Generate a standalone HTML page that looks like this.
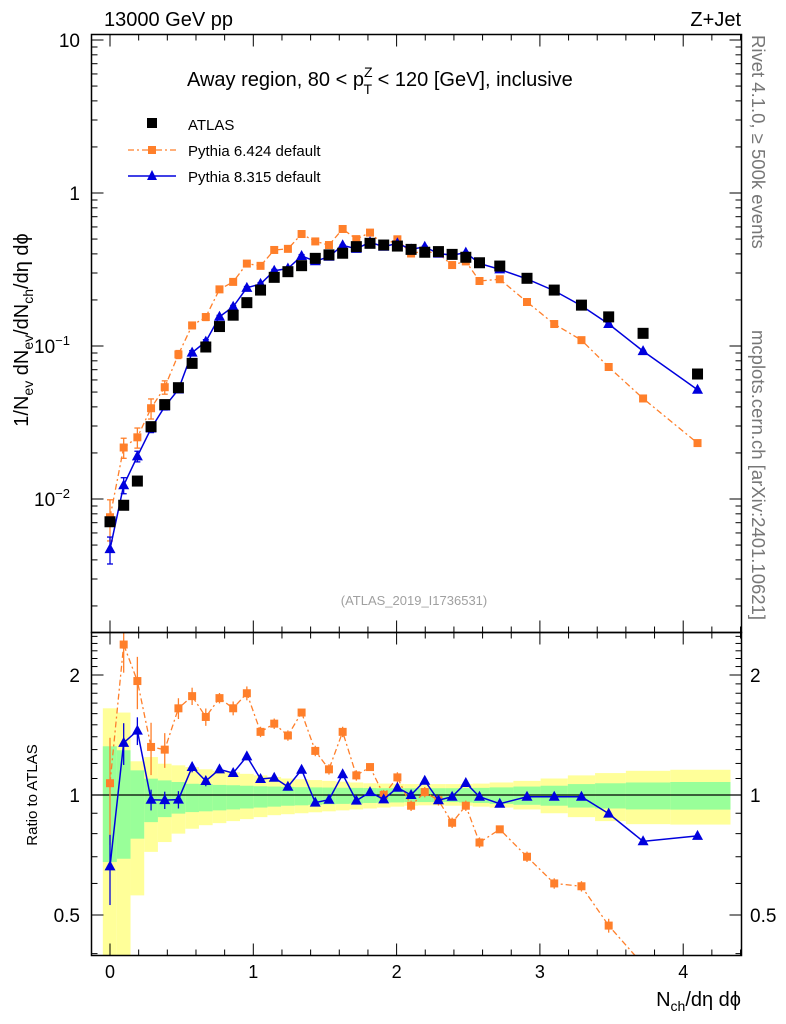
<!DOCTYPE html>
<html><head><meta charset="utf-8"><style>
html,body{margin:0;padding:0;background:#fff}
svg{display:block;font-family:"Liberation Sans",sans-serif}
</style></head><body>
<svg id="c" width="786" height="1024" viewBox="0 0 786 1024" xmlns="http://www.w3.org/2000/svg">
<rect width="786" height="1024" fill="#fff"/>
<g id="bands"></g><g id="grid"></g><g id="series"></g>
<rect x="91.5" y="34.5" width="650" height="598" fill="none" stroke="#000" stroke-width="1.5"/>
<rect x="91.5" y="632.5" width="650" height="323" fill="none" stroke="#000" stroke-width="1.5"/>
<text x="104" y="26" font-size="20">13000 GeV pp</text>
<text x="741" y="26" font-size="20" text-anchor="end">Z+Jet</text>
<text x="187" y="86" font-size="20">Away region, 80 &lt; p<tspan font-size="14" dy="-9">Z</tspan><tspan font-size="14" dx="-9" dy="17">T</tspan><tspan dy="-8"> &lt; 120 [GeV], inclusive</tspan></text>
<g>
<rect x="147" y="118" width="10" height="10"/>
<text x="188" y="130" font-size="15">ATLAS</text>
<line x1="128" y1="150" x2="176" y2="150" stroke="#ff7f2a" stroke-width="1.3" stroke-dasharray="6,3,2,3"/>
<rect x="148" y="146" width="8" height="8" fill="#ff7f2a"/>
<text x="188" y="156" font-size="15">Pythia 6.424 default</text>
<line x1="128" y1="176" x2="176" y2="176" stroke="#0000dd" stroke-width="1.5"/>
<polygon points="152,170 157,180 147,180" fill="#0000dd"/>
<text x="188" y="182" font-size="15">Pythia 8.315 default</text>
</g>
<text x="414" y="605" font-size="13" fill="#a0a0a0" text-anchor="middle">(ATLAS_2019_I1736531)</text>
<text transform="translate(28,330) rotate(-90)" font-size="20" text-anchor="middle">1/N<tspan font-size="14" dy="5">ev</tspan><tspan dy="-5"> dN</tspan><tspan font-size="14" dy="5">ev</tspan><tspan dy="-5">/dN</tspan><tspan font-size="14" dy="5">ch</tspan><tspan dy="-5">/dη dϕ</tspan></text>
<text transform="translate(37,795) rotate(-90)" font-size="15" text-anchor="middle">Ratio to ATLAS</text>
<text x="741" y="1006" font-size="20" text-anchor="end">N<tspan font-size="14" dy="5">ch</tspan><tspan dy="-5">/dη dϕ</tspan></text>
<text transform="translate(752,35) rotate(90)" font-size="18.5" fill="#777">Rivet 4.1.0, ≥ 500k events</text>
<text transform="translate(752,330) rotate(90)" font-size="18.5" fill="#777">mcplots.cern.ch [arXiv:2401.10621]</text>
</svg>
<script>
const xs=[0,0.0955,0.191,0.2865,0.382,0.4775,0.573,0.6685,0.764,0.8595,0.955,1.0505,1.146,1.2415,1.337,1.4325,1.528,1.6235,1.719,1.8145,1.91,2.0055,2.101,2.1965,2.292,2.3875,2.483,2.5785,2.72,2.91,3.10,3.29,3.48,3.72,4.10];
const atlas=[0.0071,0.0091,0.0131,0.0297,0.0414,0.0534,0.077,0.0985,0.134,0.159,0.192,0.232,0.281,0.306,0.335,0.374,0.394,0.404,0.446,0.469,0.457,0.45,0.428,0.41,0.414,0.397,0.38,0.35,0.333,0.277,0.232,0.185,0.155,0.121,0.0656];
const py8=[0.0047,0.0123,0.019,0.0289,0.0402,0.052,0.0905,0.1068,0.1554,0.1805,0.24,0.2545,0.3105,0.321,0.3876,0.358,0.3834,0.4553,0.4317,0.477,0.4456,0.4694,0.428,0.4453,0.4016,0.393,0.4074,0.3465,0.3167,0.2742,0.2297,0.1832,0.1392,0.0926,0.0518];
const py6=[0.0076,0.0217,0.0253,0.0392,0.0538,0.0881,0.1363,0.1546,0.2345,0.2624,0.3456,0.3341,0.4243,0.4315,0.5394,0.4825,0.457,0.5818,0.4995,0.5511,0.457,0.4982,0.4023,0.417,0.4016,0.3382,0.3572,0.266,0.2731,0.1939,0.1392,0.1092,0.0729,0.0454,0.0232];
const py8Err=[0.2,0.12,0.08,0.06,0.05,0.05,0.03,0.03,0.02,0.02,0.02,0.02,0.02,0.02,0.02,0.01,0.01,0.01,0.01,0.01,0.01,0.01,0.01,0.01,0.01,0.01,0.01,0.01,0.01,0.01,0.01,0.01,0.01,0.01,0.01];
const py6Err=[0.3,0.15,0.15,0.15,0.1,0.06,0.05,0.05,0.03,0.04,0.04,0.03,0.03,0.03,0.02,0.03,0.03,0.03,0.03,0.02,0.03,0.03,0.03,0.03,0.03,0.03,0.03,0.03,0.02,0.03,0.03,0.03,0.04,0.04,0.04];
const yellowHi=[1.65,1.61,1.215,1.245,1.198,1.187,1.175,1.16,1.15,1.14,1.13,1.12,1.11,1.10,1.095,1.09,1.085,1.08,1.075,1.07,1.068,1.066,1.065,1.065,1.065,1.065,1.066,1.068,1.075,1.085,1.10,1.12,1.135,1.15,1.157];
const yellowLo=[0.3,0.3,0.56,0.72,0.762,0.8,0.823,0.84,0.85,0.86,0.87,0.88,0.89,0.895,0.9,0.905,0.91,0.915,0.92,0.925,0.93,0.935,0.94,0.942,0.942,0.94,0.94,0.935,0.93,0.92,0.9,0.88,0.86,0.845,0.843];
const greenHi=[1.325,1.295,1.153,1.099,1.088,1.078,1.067,1.065,1.06,1.058,1.055,1.052,1.05,1.048,1.046,1.045,1.044,1.043,1.042,1.041,1.04,1.04,1.04,1.04,1.04,1.04,1.041,1.042,1.045,1.05,1.055,1.065,1.07,1.075,1.078];
const greenLo=[0.679,0.692,0.777,0.855,0.88,0.898,0.906,0.91,0.915,0.92,0.925,0.93,0.935,0.94,0.942,0.945,0.948,0.95,0.952,0.955,0.957,0.958,0.96,0.96,0.96,0.96,0.958,0.955,0.95,0.945,0.94,0.93,0.925,0.92,0.919];
const xTicks=[0,1,2,3,4];
const yTicks=[10,1,0.1,0.01];
const rTicks=[0.5,1,2];

const NS="http://www.w3.org/2000/svg";
const X=v=>110+143.3*v;
const Y=v=>193-153*Math.log10(v);
const R=v=>795-120*Math.log2(v);
const L=91.5,RT=741.5,MT=34.5,MB=632.5,RB=955.5;
function mk(tag,at,parent){const e=document.createElementNS(NS,tag);for(const k in at)e.setAttribute(k,at[k]);parent.appendChild(e);return e;}
const bands=document.getElementById('bands'),grid=document.getElementById('grid'),ser=document.getElementById('series');
const edges=[];edges.push(-0.05);
for(let i=0;i<xs.length-1;i++)edges.push((xs[i]+xs[i+1])/2);
edges.push(4.33);
function band(lo,hi,col,name){for(let i=0;i<xs.length;i++){const y1=Math.max(632.5,R(hi[i])),y2=Math.min(RB,R(lo[i]));
const e=mk('rect',{x:X(edges[i]),y:y1,width:X(edges[i+1])-X(edges[i]),height:y2-y1,fill:col},bands);

}}
band(yellowLo,yellowHi,'#ffff99','yellow-band');
band(greenLo,greenHi,'#99ff99','green-band');
let ln=mk('line',{x1:L,x2:RT,y1:R(1),y2:R(1),stroke:'#000','stroke-width':1.3},grid);


for(let v=-0.2;v<=4.41;v+=0.2){const x=X(v);if(x<L||x>RT)continue;const maj=Math.abs(v-Math.round(v))<1e-6;const len=maj?12:6;
[[MB,-1],[MT,1],[632.5,1],[RB,-1]].forEach(([y,d])=>mk('line',{x1:x,x2:x,y1:y,y2:y+d*len,stroke:'#000'},grid));}
xTicks.forEach(v=>{const t=mk('text',{x:X(v),y:978,'font-size':18,'text-anchor':'middle'},grid);t.textContent=v;

});
for(let d=-3;d<=1;d++)for(let m=1;m<=9;m++){const v=m*Math.pow(10,d);const y=Y(v);if(y<MT||y>MB)continue;const len=m==1?12:6;
mk('line',{x1:L,x2:L+len,y1:y,y2:y,stroke:'#000'},grid);mk('line',{x1:RT,x2:RT-len,y1:y,y2:y,stroke:'#000'},grid);}
const yLab={10:'10',1:'1',0.1:'10<tspan font-size="13" dy="-8">−1</tspan>',0.01:'10<tspan font-size="13" dy="-8">−2</tspan>'};
yTicks.forEach(v=>{const t=mk('text',{x:v>=1?80:70,y:Y(v)+7,'font-size':19,'text-anchor':'end'},grid);t.innerHTML=yLab[v];

});
[0.4,0.5,0.6,0.7,0.8,0.9,1,1.1,1.2,1.3,1.4,1.5,1.6,1.7,1.8,1.9,2,2.1,2.2,2.3,2.4,2.5].forEach(v=>{const y=R(v);if(y<632.5||y>RB)return;const len=rTicks.includes(v)?12:6;
mk('line',{x1:L,x2:L+len,y1:y,y2:y,stroke:'#000'},grid);mk('line',{x1:RT,x2:RT-len,y1:y,y2:y,stroke:'#000'},grid);});
rTicks.forEach(v=>{[[80,'end'],[750,'start']].forEach(([x,a])=>{const t=mk('text',{x:x,y:R(v)+7,'font-size':19,'text-anchor':a},grid);t.textContent=v;

});});
function poly(pts,col,dash,w,name){const e=mk('polyline',{points:pts.map(p=>p.join(',')).join(' '),fill:'none',stroke:col,'stroke-width':w},ser);if(dash)e.setAttribute('stroke-dasharray',dash);

}
function errb(x,y1,y2,col){mk('line',{x1:x,x2:x,y1:y1,y2:y2,stroke:col,'stroke-width':1.3},ser);mk('line',{x1:x-3,x2:x+3,y1:y1,y2:y1,stroke:col,'stroke-width':1.3},ser);mk('line',{x1:x-3,x2:x+3,y1:y2,y2:y2,stroke:col,'stroke-width':1.3},ser);}
function sq(x,y,s,col,name){const e=mk('rect',{x:x-s/2,y:y-s/2,width:s,height:s,fill:col},ser);

}
function tri(x,y,col,name){const e=mk('polygon',{points:`${x},${y-6} ${x+5.5},${y+4} ${x-5.5},${y+4}`,fill:col},ser);

}
const O='#ff7f2a',B='#0000dd';
poly(xs.map((x,i)=>[X(x),Y(py6[i])]),O,'6,3,2,3',1.3,'pythia6-line');
xs.forEach((x,i)=>{errb(X(x),Y(py6[i]*(1+py6Err[i])),Y(py6[i]*(1-py6Err[i])),O);sq(X(x),Y(py6[i]),8,O,'pythia6-point');});
poly(xs.map((x,i)=>[X(x),Y(py8[i])]),B,null,1.5,'pythia8-line');
xs.forEach((x,i)=>{errb(X(x),Y(py8[i]*(1+py8Err[i])),Y(py8[i]*(1-py8Err[i])),B);tri(X(x),Y(py8[i]),B,'pythia8-point');});
xs.forEach((x,i)=>sq(X(x),Y(atlas[i]),11,'#000','atlas-point'));
const r6=py6.map((v,i)=>v/atlas[i]),r8=py8.map((v,i)=>v/atlas[i]);
const cp=mk('clipPath',{id:'rc'},ser);mk('rect',{x:L,y:632.5,width:RT-L,height:RB-632.5},cp);
const rg=mk('g',{'clip-path':'url(#rc)'},ser);
function rpoly(arr,col,dash,w,name){const e=mk('polyline',{points:xs.map((x,i)=>X(x)+','+R(arr[i])).join(' '),fill:'none',stroke:col,'stroke-width':w},rg);if(dash)e.setAttribute('stroke-dasharray',dash);

}
rpoly(r6,O,'6,3,2,3',1.3,'pythia6-ratio-line');
xs.forEach((x,i)=>{const y=R(r6[i]);if(y>RB)return;const e=py6Err[i]*r6[i];
mk('line',{x1:X(x),x2:X(x),y1:R(r6[i]+e),y2:R(r6[i]-e),stroke:O,'stroke-width':1.3},rg);
const s=mk('rect',{x:X(x)-4,y:y-4,width:8,height:8,fill:O},rg);

});
rpoly(r8,B,null,1.5,'pythia8-ratio-line');
xs.forEach((x,i)=>{const y=R(r8[i]);const e=py8Err[i]*r8[i];
mk('line',{x1:X(x),x2:X(x),y1:R(r8[i]+e),y2:R(r8[i]-e),stroke:B,'stroke-width':1.3},rg);
const t=mk('polygon',{points:`${X(x)},${y-6} ${X(x)+5.5},${y+4} ${X(x)-5.5},${y+4}`,fill:B},rg);

});
</script>
</body></html>
